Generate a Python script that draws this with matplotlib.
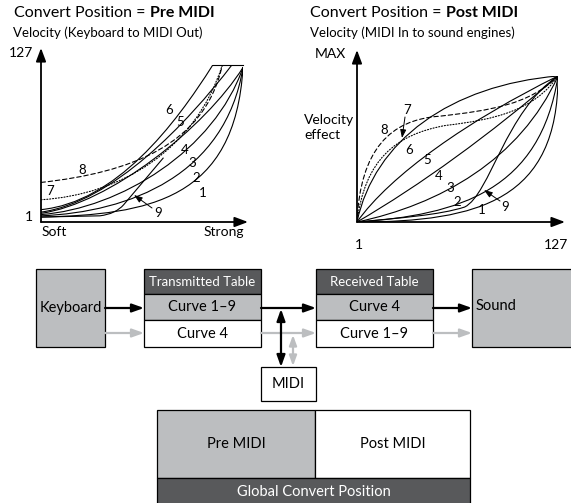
import numpy as np
import matplotlib.pyplot as plt
from matplotlib.path import Path
from matplotlib.patches import PathPatch, Rectangle

plt.rcParams['font.family'] = ['Lato', 'DejaVu Sans']

W, H = 571, 503
GRAY = '#bcbec0'
DARK = '#58595b'

# velocity curves, cubic bezier control points (in velocity, out value)
pre_curves = {
    '1': [(0, 4), (68, 6), (122, 18), (127, 125)],
    '2': [(0, 5), (56, 8), (116, 38), (127, 125)],
    '3': [(0, 6), (50, 11), (109, 58), (127, 125)],
    '4': [(0, 7), (43, 15), (103, 76), (127, 125)],
    '5': [(0, 8), (45, 16), (92, 80), (120, 127)],
    '6': [(0, 10), (47, 16), (84, 78), (108, 127)],
}
pre_7 = [(0, 18), (50, 22), (97, 58), (114, 127)]
pre_8 = [(0, 32), (56, 40), (103, 62), (114, 127)]
pre_9 = [(0, 4), (37, 5), (47, 6.5), (52, 14), (77, 52)]
pre_top = [(108, 127), (127, 127)]

post_curves = {
    '1': [(0, 0), (78, 0), (127, 20), (127, 127)],
    '2': [(0, 0), (65, 6), (116, 28), (127, 127)],
    '3': [(0, 0), (52, 15), (103, 54), (127, 127)],
    '4': [(0, 0), (40, 32), (84, 76), (127, 127)],
    '5': [(0, 0), (21, 41), (71, 89), (127, 127)],
    '6': [(0, 0), (11, 71), (59, 119), (127, 127)],
}
post_7 = [(0, 0), (5, 54), (24, 76), (56, 84), (87, 89), (112, 97), (127, 127)]
post_8 = [(0, 0), (2, 63), (21, 89), (52, 92), (84, 97), (109, 102), (127, 127)]
post_9 = [(0, 0), (27, 3.5), (52, 6), (68, 13), (84, 24), (94, 97), (127, 127)]

# label positions (pixels)
pre_labels = {'1': (203, 193), '2': (196, 178), '3': (192, 163), '4': (185, 150),
              '5': (180, 122), '6': (169, 110), '7': (50, 191), '8': (82, 170), '9': (158, 213)}
post_labels = {'1': (482, 210), '2': (457, 202), '3': (450, 188), '4': (439, 176),
               '5': (427, 160), '6': (409, 150), '7': (407, 110), '8': (384, 130), '9': (505, 207)}


def bezier(ax, pts, **kw):
    codes = [Path.MOVETO] + [Path.CURVE4] * (len(pts) - 1)
    ax.add_patch(PathPatch(Path(pts, codes), fill=False, capstyle='round', **kw))


def chart_axes(x0, ybot, x1, ytop):
    a = fig.add_axes([x0 / W, 1 - ybot / H, (x1 - x0) / W, (ybot - ytop) / H])
    a.set_xlim(0, 127)
    a.set_ylim(0, 127)
    a.axis('off')
    a.patch.set_alpha(0)
    return a


fig = plt.figure(figsize=(W / 100, H / 100), dpi=100)
base = fig.add_axes([0, 0, 1, 1])
base.set_xlim(0, W)
base.set_ylim(H, 0)
base.axis('off')

lw = 0.8
# left chart
axl = chart_axes(41, 222, 243, 65)
for k, pts in pre_curves.items():
    bezier(axl, pts, lw=lw, color='black')
bezier(axl, pre_7, lw=lw, color='black', linestyle=(0, (1, 1.6)))
bezier(axl, pre_8, lw=lw, color='black', linestyle=(0, (4, 2.5)))
axl.add_patch(PathPatch(Path(pre_9, [Path.MOVETO, Path.LINETO, Path.CURVE3, Path.CURVE3, Path.LINETO]),
                        fill=False, lw=lw, color='black'))
axl.plot(*zip(*pre_top), color='black', lw=lw, clip_on=False)

# right chart
axr = chart_axes(357, 222, 558, 76)
for k, pts in post_curves.items():
    bezier(axr, pts, lw=lw, color='black')
bezier(axr, post_7, lw=lw, color='black', linestyle=(0, (1, 1.6)))
bezier(axr, post_8, lw=lw, color='black', linestyle=(0, (4, 2.5)))
bezier(axr, post_9, lw=lw, color='black')

ax_arrow = dict(arrowstyle='-|>,head_length=0.8,head_width=0.3', color='black', lw=1.3,
                shrinkA=0, shrinkB=0)
for (x0, y0, x1, y1) in [(41, 222, 41, 48), (41, 222, 248, 222), (357, 222, 357, 50), (357, 222, 565, 222)]:
    base.annotate('', xy=(x1, y1), xytext=(x0, y0), arrowprops=ax_arrow)

# curve labels
for labels in (pre_labels, post_labels):
    for k, (x, y) in labels.items():
        base.text(x, y, k, fontsize=9.5, ha='center', va='center')
small_arrow = dict(arrowstyle='-|>,head_length=0.5,head_width=0.18', color='black', lw=0.7,
                   shrinkA=0, shrinkB=0)
base.annotate('', xy=(134, 195), xytext=(152, 208), arrowprops=small_arrow)
base.annotate('', xy=(484, 190), xytext=(500, 201), arrowprops=small_arrow)
base.annotate('', xy=(402, 138), xytext=(405, 117), arrowprops=small_arrow)

# titles and axis text
for x, name in [(14, 'Pre MIDI'), (310, 'Post MIDI')]:
    t = base.text(x, 13, 'Convert Position = ', fontsize=11.5, va='center')
    base.annotate(name, xy=(1, 0.5), xycoords=t, va='center', fontsize=11.5, fontweight='bold')
base.text(13, 33, 'Velocity (Keyboard to MIDI Out)', fontsize=9.5, va='center')
base.text(310, 33, 'Velocity (MIDI In to sound engines)', fontsize=9.5, va='center')
base.text(33, 53, '127', fontsize=10, ha='right', va='center')
base.text(33, 217, '1', fontsize=10, ha='right', va='center')
base.text(42, 232, 'Soft', fontsize=10, va='center')
base.text(244, 232, 'Strong', fontsize=10, ha='right', va='center')
base.text(315, 54, 'MAX', fontsize=10, va='center')
base.text(304, 127, 'Velocity\neffect', fontsize=10, va='center', linespacing=1.3)
base.text(359, 245, '1', fontsize=10, ha='center', va='center')
base.text(556, 245, '127', fontsize=10, ha='center', va='center')

# block diagram
def box(x0, y0, x1, y1, fc, text='', tc='black', fs=10.5):
    base.add_patch(Rectangle((x0, y0), x1 - x0, y1 - y0, fc=fc, ec='black', lw=0.9))
    if text:
        base.text((x0 + x1) / 2, (y0 + y1) / 2, text, color=tc, fontsize=fs, ha='center', va='center')

box(36, 269, 105, 347, GRAY, 'Keyboard')
box(144, 269, 261, 294, DARK, 'Transmitted Table', 'white', 9.5)
box(144, 294, 261, 320, GRAY, 'Curve 1\u20139')
box(144, 320, 261, 347, 'white', 'Curve 4')
box(316, 269, 433, 294, DARK, 'Received Table', 'white', 9.5)
box(316, 294, 433, 320, GRAY, 'Curve 4')
box(316, 320, 433, 347, 'white', 'Curve 1\u20139')
box(472, 269, 580, 347, GRAY)
base.text(476, 306, 'Sound', fontsize=10.5, va='center')
box(261, 367, 316, 401, 'white', 'MIDI')
box(157, 410, 315, 478, GRAY, 'Pre MIDI')
box(315, 410, 470, 478, 'white', 'Post MIDI')
box(157, 478, 470, 506, DARK, 'Global Convert Position', 'white', 10.5)

flow = dict(arrowstyle='-|>,head_length=0.7,head_width=0.25', lw=1.6, shrinkA=0, shrinkB=0)
for (x0, x1) in [(105, 144), (261, 316), (433, 472)]:
    base.annotate('', xy=(x1, 308), xytext=(x0, 308), arrowprops=dict(flow, color='black'))
    base.annotate('', xy=(x1, 333), xytext=(x0, 333), arrowprops=dict(flow, color=GRAY))
base.annotate('', xy=(281, 367), xytext=(281, 309),
              arrowprops=dict(flow, arrowstyle='<|-|>,head_length=0.7,head_width=0.25', color='black'))
base.annotate('', xy=(293, 366), xytext=(293, 335),
              arrowprops=dict(flow, arrowstyle='<|-|>,head_length=0.6,head_width=0.22', color=GRAY))

fig.savefig('out.png', dpi=100)
